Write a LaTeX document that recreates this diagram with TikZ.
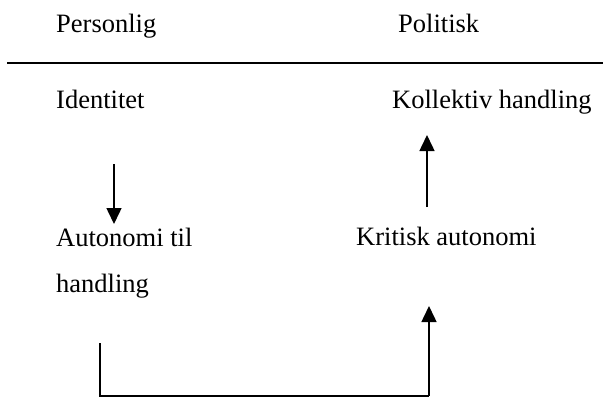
\documentclass[tikz,border=0pt]{standalone}
\usepackage{fontspec}
\setmainfont{Liberation Serif}
\usetikzlibrary{arrows.meta}
\begin{document}
\begin{tikzpicture}[x=1pt,y=-1pt,
  lbl/.style={anchor=base west,inner sep=0pt,font=\fontsize{26.5}{30}\selectfont},
  conn/.style={line width=1.5pt},
  arr/.style={conn,-{Triangle[length=16pt,width=15pt]}}]
\useasboundingbox (0,0) rectangle (603,397);
\node[lbl] (pers) at (56,32) {Personlig};
\node[lbl] (pol) at (398,32) {Politisk};
\coordinate (rl) at (7,63);
\coordinate (rr) at (603,63);
\draw[line width=2pt] (rl) -- (rr);
\node[lbl] (ident) at (56,108) {Identitet};
\node[lbl] (koll) at (392,108) {Kollektiv handling};
\node[lbl] (auto) at (56,246) {Autonomi til};
\node[lbl] (hand) at (56,292) {handling};
\node[lbl] (krit) at (356,245) {Kritisk autonomi};
\coordinate (d1) at (114,164);
\coordinate (d2) at (114,224);
\draw[arr] (d1) -- (d2);
\coordinate (u1) at (427,207);
\coordinate (u2) at (427,135);
\draw[arr] (u1) -- (u2);
\coordinate (b1) at (100,343);
\coordinate (b2) at (100,396);
\coordinate (b3) at (429,396);
\coordinate (b4) at (429,306);
\draw[conn] (b1) -- (b2) -- (b3);
\draw[arr] (b3) -- (b4);
\end{tikzpicture}
\end{document}
